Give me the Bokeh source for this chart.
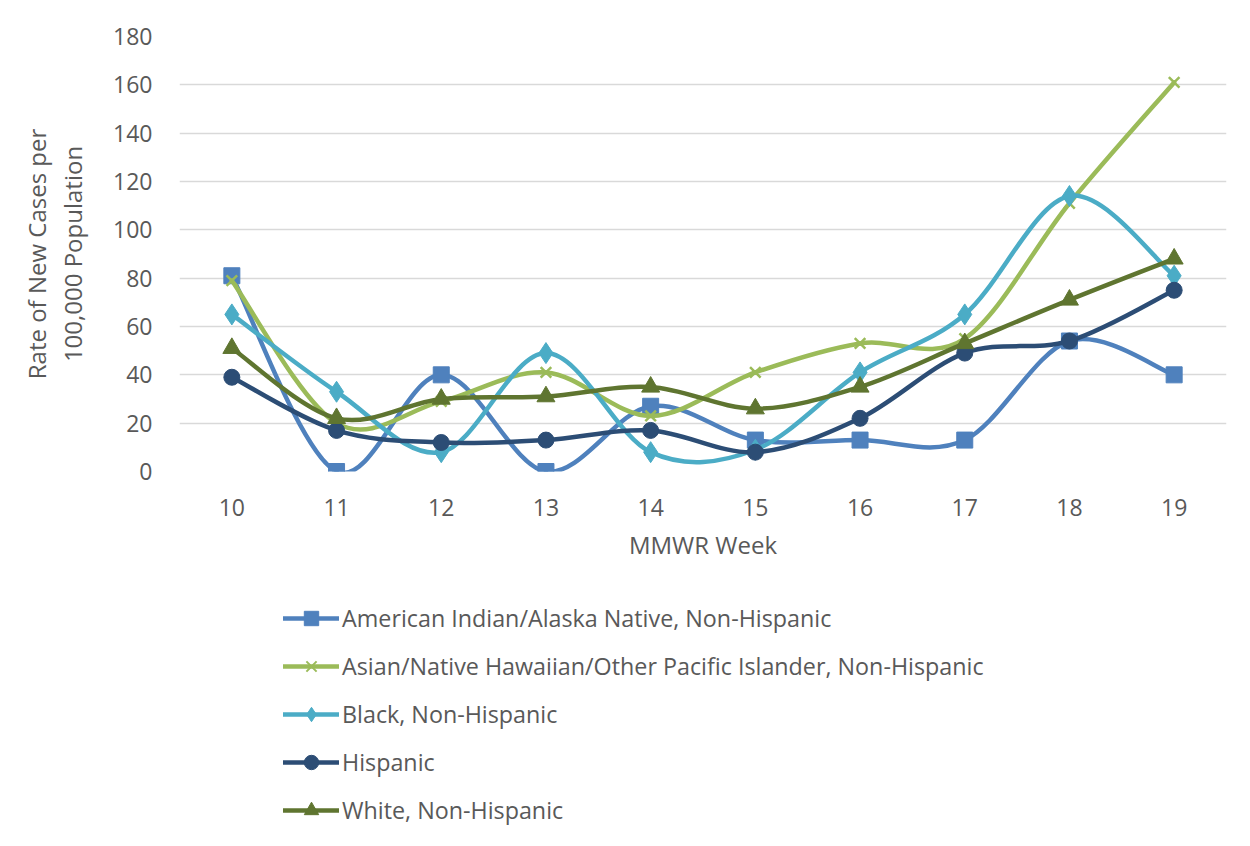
import numpy as np
from bokeh.plotting import figure
from bokeh.layouts import column
from bokeh.models import Legend, LegendItem, FixedTicker, Range1d, ColumnDataSource
from bokeh.embed import file_html
from bokeh.resources import INLINE

weeks = [10, 11, 12, 13, 14, 15, 16, 17, 18, 19]
aian = [81, 0, 40, 0, 27, 13, 13, 13, 54, 40]
asian = [79, 20, 29, 41, 23, 41, 53, 55, 111, 161]
black = [65, 33, 8, 49, 8, 9, 41, 65, 114, 81]
hispanic = [39, 17, 12, 13, 17, 8, 22, 49, 54, 75]
white = [51, 22, 30, 31, 35, 26, 35, 53, 71, 88]

series = [
    ("American Indian/Alaska Native, Non-Hispanic", aian, "#4f81bd", "square", 16),
    ("Asian/Native Hawaiian/Other Pacific Islander, Non-Hispanic", asian, "#9bbb59", "x", 15),
    ("Black, Non-Hispanic", black, "#4bacc6", "diamond", 21),
    ("Hispanic", hispanic, "#2c4d75", "circle", 16),
    ("White, Non-Hispanic", white, "#5f7530", "triangle", 18),
]

FONT = "Open Sans"
GREY = "#595959"

p = figure(width=1234, height=571, output_backend="svg", toolbar_location=None,
           x_range=Range1d(9.5, 19.5), y_range=Range1d(0, 180),
           min_border_left=179, min_border_right=8, min_border_top=36, min_border_bottom=100)
p.outline_line_color = None
p.xgrid.visible = False
p.ygrid.grid_line_color = "#d9d9d9"
p.ygrid.grid_line_width = 1.5
p.yaxis.ticker = FixedTicker(ticks=list(range(0, 181, 20)))
p.xaxis.ticker = FixedTicker(ticks=weeks)
for ax in (p.xaxis[0], p.yaxis[0]):
    ax.axis_line_color = None
    ax.major_tick_line_color = None
    ax.minor_tick_line_color = None
    ax.major_label_text_font = FONT
    ax.major_label_text_font_size = "23px"
    ax.major_label_text_color = GREY
    ax.axis_label_text_font = FONT
    ax.axis_label_text_font_size = "24px"
    ax.axis_label_text_color = GREY
    ax.axis_label_text_font_style = "normal"
    ax.major_label_standoff = 21
p.xaxis.axis_label = "MMWR Week"
p.xaxis.axis_label_standoff = 9
p.yaxis.axis_label = "Rate of New Cases per\n100,000 Population"
p.yaxis.axis_label_standoff = 21
p.yaxis.axis_label_text_line_height = 1.1


def smooth_segments(xs, ys):
    x = np.asarray(xs, dtype=float)
    y = np.asarray(ys, dtype=float)
    xp = np.concatenate([[x[0]], x, [x[-1]]])
    yp = np.concatenate([[y[0]], y, [y[-1]]])
    n = len(x)
    x0, y0 = x[:-1], y[:-1]
    x1, y1 = x[1:], y[1:]
    cx0 = x0 + (xp[2:n + 1] - xp[0:n - 1]) / 6.0
    cy0 = y0 + (yp[2:n + 1] - yp[0:n - 1]) / 6.0
    cx1 = x1 - (xp[3:n + 2] - xp[1:n]) / 6.0
    cy1 = y1 - (yp[3:n + 2] - yp[1:n]) / 6.0
    return dict(x0=x0, y0=y0, x1=x1, y1=y1, cx0=cx0, cy0=cy0, cx1=cx1, cy1=cy1)


# legend-only figure below the chart (its frame is aligned with the chart's frame)
lf = figure(width=1234, height=259, output_backend="svg", toolbar_location=None,
            x_range=Range1d(0, 1), y_range=Range1d(0, 1),
            x_axis_location=None, y_axis_location=None,
            min_border_left=179, min_border_right=8, min_border_top=0, min_border_bottom=0)
lf.outline_line_color = None
lf.grid.visible = False

items = []
for name, vals, color, marker, size in series:
    src = ColumnDataSource(smooth_segments(weeks, vals))
    p.bezier(x0="x0", y0="y0", x1="x1", y1="y1", cx0="cx0", cy0="cy0", cx1="cx1", cy1="cy1",
             source=src, line_color=color, line_width=4.5, line_cap="round")
    p.scatter(x=weeks, y=vals, marker=marker, size=size, fill_color=color,
              line_color=color, line_width=2.5 if marker == "x" else 1)
    # off-range proxies so that the legend can draw its glyphs
    lline = lf.line(x=[-10, -9], y=[-10, -10], line_color=color, line_width=4.5, line_cap="round")
    lmark = lf.scatter(x=[-10], y=[-10], marker=marker, size=size, fill_color=color,
                       line_color=color, line_width=2 if marker == "x" else 1)
    items.append(LegendItem(label=name, renderers=[lline, lmark]))

legend = Legend(items=items, location=(104, 2), orientation="vertical",
                glyph_width=56, glyph_height=36, label_height=36, spacing=12,
                label_standoff=3, padding=0, margin=0, border_line_color=None,
                background_fill_alpha=0,
                label_text_font=FONT, label_text_font_size="23.3px", label_text_color=GREY)
lf.add_layout(legend, "center")

open("out.html", "w").write(file_html(column(p, lf), INLINE))
